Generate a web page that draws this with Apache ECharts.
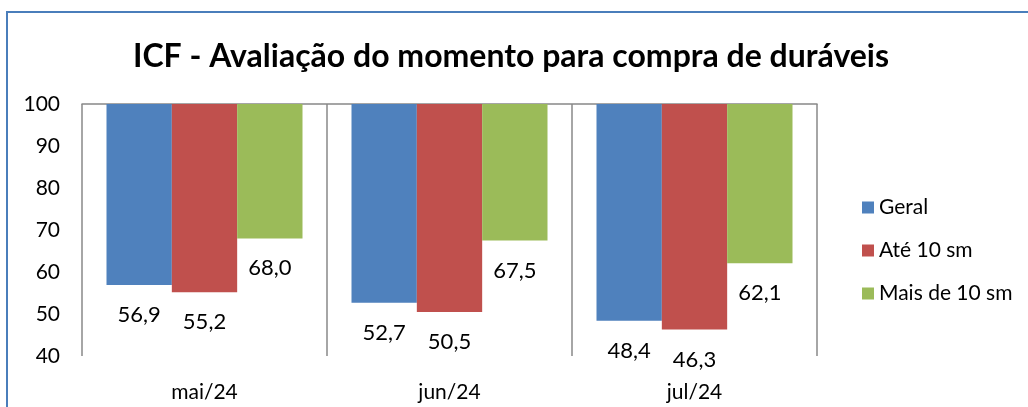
<!DOCTYPE html>
<html>
<head>
<meta charset="utf-8">
<script src="https://cdn.jsdelivr.net/npm/echarts@6/dist/echarts.min.js"></script>
<style>
  html, body { margin: 0; padding: 0; background: #fff; }
  #chart { width: 1028px; height: 407px; }
</style>
</head>
<body>
<div id="chart"></div>
<script>
// ICF - avaliação do momento para compra de duráveis
var categories = ['mai/24', 'jun/24', 'jul/24'];
var seriesNames = ['Geral', 'Até 10 sm', 'Mais de 10 sm'];
var geral = [56.9, 52.7, 48.4];
var ate10 = [55.2, 50.5, 46.3];
var mais10 = [68.0, 67.5, 62.1];
var yTicks = [40, 50, 60, 70, 80, 90, 100];

var colors = ['#4F81BD', '#C0504D', '#9BBB59'];
var FONT = 'Lato';

var chart = echarts.init(document.getElementById('chart'));

// bars hang down from 100 (axis crosses at max), so stack a hidden base under each
function makeSeries(name, vals, color, stackId) {
  var top = yTicks[yTicks.length - 1];
  return [
    {
      name: '_' + stackId,
      type: 'bar',
      stack: stackId,
      data: vals,
      itemStyle: { color: 'transparent' },
      silent: true,
      barGap: '0%',
      barCategoryGap: '20%'
    },
    {
      name: name,
      type: 'bar',
      stack: stackId,
      data: vals.map(function (v) { return top - v; }),
      itemStyle: { color: color },
      barGap: '0%',
      barCategoryGap: '20%',
      label: {
        show: true,
        position: 'bottom',
        distance: 19,
        color: '#000',
        fontFamily: FONT,
        fontSize: 22,
        formatter: function (p) { return vals[p.dataIndex].toFixed(1).replace('.', ','); }
      }
    }
  ];
}

var series = [].concat(
  makeSeries(seriesNames[0], geral, colors[0], 'g'),
  makeSeries(seriesNames[1], ate10, colors[1], 'a'),
  makeSeries(seriesNames[2], mais10, colors[2], 'm')
);

chart.setOption({
  animation: false,
  title: {
    text: 'ICF - Avaliação do momento para compra de duráveis',
    left: 506,
    textAlign: 'center',
    top: 36,
    textStyle: { fontFamily: FONT, fontSize: 32, fontWeight: 'bold', color: '#000' }
  },
  legend: {
    data: seriesNames,
    orient: 'vertical',
    left: 857,
    top: 192,
    itemWidth: 12,
    itemHeight: 12,
    itemGap: 22,
    icon: 'rect',
    textStyle: { fontFamily: FONT, fontSize: 21, color: '#000' }
  },
  grid: { left: 82, right: 211, top: 104, bottom: 51 },
  xAxis: [
    {
      type: 'category',
      data: categories,
      position: 'bottom',
      axisLine: { show: false },
      axisTick: { show: false },
      splitLine: { show: true, lineStyle: { color: '#888', width: 1.5 } },
      axisLabel: { margin: 26, color: '#000', fontFamily: FONT, fontSize: 21 }
    },
    {
      type: 'category',
      data: categories,
      position: 'top',
      axisLine: { show: true, lineStyle: { color: '#888', width: 1.5 } },
      axisTick: { show: false },
      axisLabel: { show: false }
    }
  ],
  yAxis: {
    type: 'value',
    min: yTicks[0],
    max: yTicks[yTicks.length - 1],
    interval: 10,
    axisLine: { show: false },
    axisTick: { show: false },
    splitLine: { show: false },
    axisLabel: { margin: 22, color: '#000', fontFamily: FONT, fontSize: 21 }
  },
  graphic: [{
    type: 'rect',
    shape: { x: 7, y: 12, width: 1100, height: 500 },
    style: { fill: 'none', stroke: '#4A7EBB', lineWidth: 2 },
    silent: true
  }],
  series: series
});
</script>
</body>
</html>
